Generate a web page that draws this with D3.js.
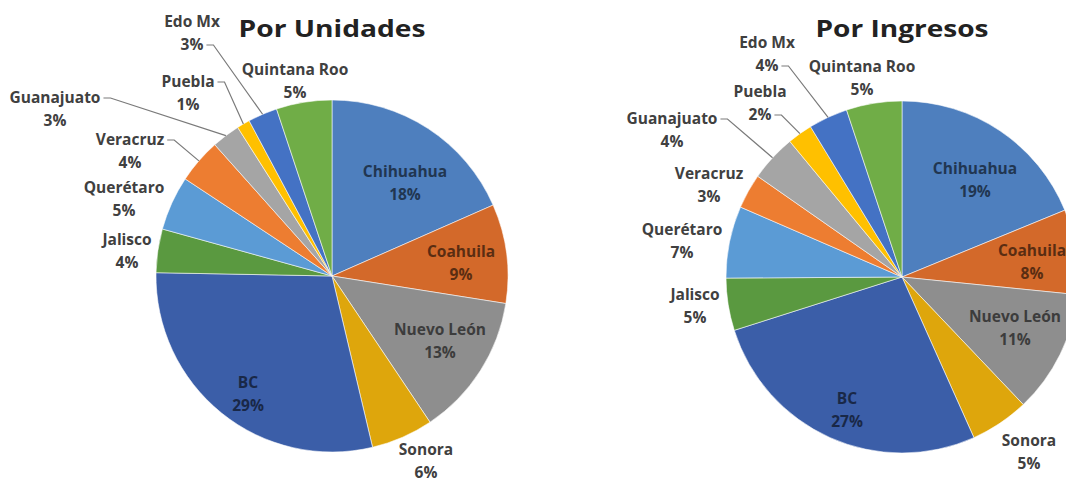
<!DOCTYPE html>
<html><head><meta charset="utf-8">
<script src="https://cdn.jsdelivr.net/npm/d3@7"></script>
<style>
body{margin:0;background:#fff;}
svg{display:block;}
text{font-family:"Open Sans","Noto Sans",sans-serif;font-weight:700;}
</style>
</head><body>
<svg id="chart" width="1066" height="483"></svg>
<script>
// ---- data ----
const states = ["Chihuahua","Coahuila","Nuevo León","Sonora","BC","Jalisco","Querétaro","Veracruz","Guanajuato","Puebla","Edo Mx","Quintana Roo"];
const unidades = [18.4, 9.1, 13.1, 5.7, 29.0, 4.0, 5.0, 4.1, 2.6, 1.2, 2.7, 5.1];
const ingresos = [18.8, 7.8, 11.3, 5.4, 26.8, 4.8, 6.6, 3.2, 4.3, 2.3, 3.6, 5.1];
const titles = ["Por Unidades", "Por Ingresos"];

// ---- styles / layout ----
const colors = ["#4E7FBE","#D3692A","#8E8E8E","#DEA60C","#3B5EA8","#5A9940","#5B9BD5","#ED7D31","#A5A5A5","#FFC000","#4472C4","#70AD47"];
const insideLabels = new Set(["Chihuahua","Coahuila","Nuevo León","BC"]);
const panels = [
  { values: unidades, title: titles[0], cx: 332, cy: 276, r: 176, titleW: 187,
    labelPos: [[73,-99],[129,-19],[108,59],[94,179],[-84,112],[-205,-31],[-208,-83],[-202,-131],[-277,-173],[-144,-189],[-140,-249],[-37,-201]],
    leaders: {7:0, 8:0, 9:0, 10:1} },
  { values: ingresos, title: titles[1], cx: 902, cy: 277, r: 176, titleW: 173,
    labelPos: [[73,-103],[130,-21],[113,45],[127,169],[-55,127],[-207,23],[-220,-42],[-193,-98],[-230,-153],[-142,-180],[-135,-229],[-40,-205]],
    leaders: {8:0, 9:1, 10:1} }
];
const fontSize = 15.5, lineH = 23;

const svg = d3.select("#chart");
const pie = d3.pie().sort(null).value(d => d);

panels.forEach(p => {
  const g = svg.append("g").attr("transform", `translate(${p.cx},${p.cy})`);
  const arcs = pie(p.values);
  const total = d3.sum(p.values);
  const arc = d3.arc().innerRadius(0).outerRadius(p.r);
  const edge = d3.arc().innerRadius(p.r).outerRadius(p.r);

  g.selectAll("path.slice").data(arcs).join("path")
    .attr("class","slice")
    .attr("d", arc)
    .attr("fill", (d,i) => colors[i])
    .attr("stroke", "#ffffff").attr("stroke-opacity", 0.7).attr("stroke-width", 0.8);

  arcs.forEach((d, i) => {
    const name = states[i];
    const pct = Math.round(d.data / total * 100) + "%";
    const [lx, ly] = p.labelPos[i];
    const inside = insideLabels.has(name);
    const fill = inside ? d3.color(colors[i]).darker(2.4).formatHex() : "#404040";
    const t = g.append("text")
      .attr("text-anchor","middle")
      .attr("font-size", fontSize)
      .attr("fill", fill);
    const lines = [name, pct];
    const tspans = lines.map((s, k) => t.append("tspan")
      .attr("x", lx).attr("y", ly + k*lineH).text(s));
    if (p.leaders[i] !== undefined) {
      const k = p.leaders[i];
      const w = tspans[k].node().getComputedTextLength();
      const sx = lx + w/2 + 3, sy = ly + k*lineH - 5;
      const [ex, ey] = edge.centroid(d);
      g.append("polyline")
        .attr("points", `${sx},${sy} ${sx+7},${sy} ${ex},${ey}`)
        .attr("fill","none").attr("stroke","#7a7a7a").attr("stroke-width",1.2);
    }
  });

  svg.append("text")
    .attr("x", p.cx).attr("y", 37)
    .attr("text-anchor","middle")
    .attr("font-size", 24)
    .attr("fill", "#222")
    .attr("textLength", p.titleW).attr("lengthAdjust","spacingAndGlyphs")
    .text(p.title);
});
</script>
</body></html>
